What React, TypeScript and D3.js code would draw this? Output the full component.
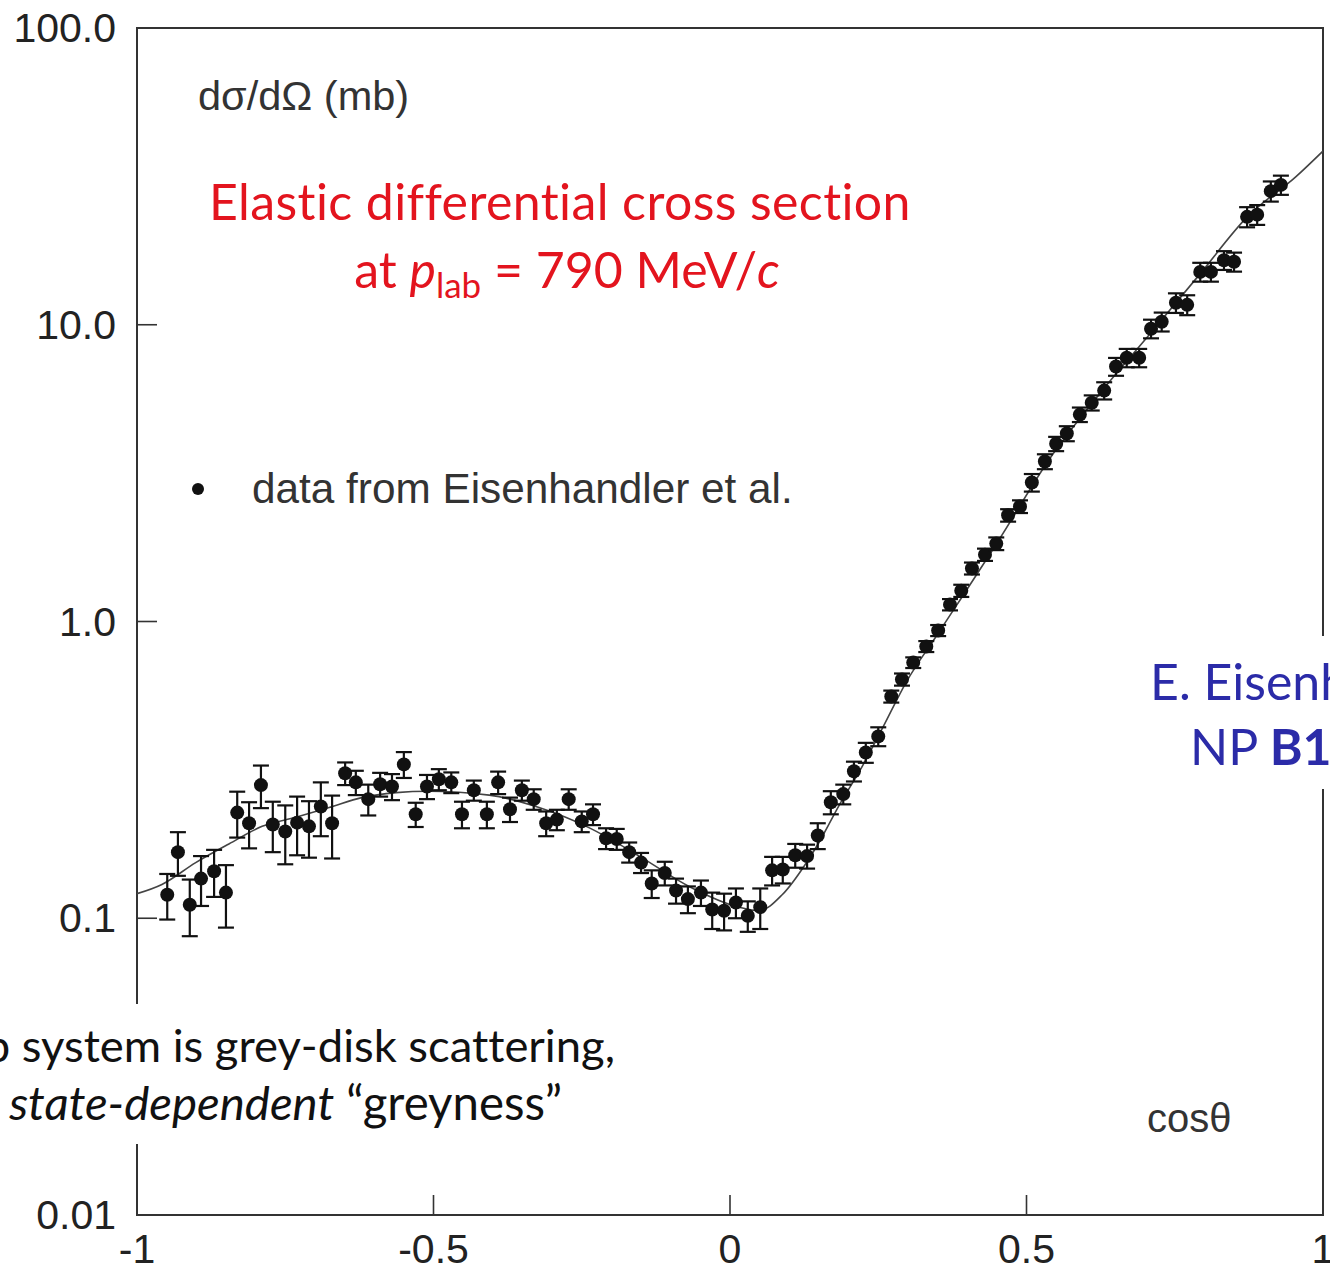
import React from "react";
import * as d3 from "d3";

// ---- data ----
const cosTheta = [
  -0.949, -0.931, -0.911, -0.892, -0.870, -0.850, -0.831, -0.811, -0.791, -0.771,
  -0.750, -0.730, -0.710, -0.690, -0.671, -0.649, -0.631, -0.610, -0.590, -0.570,
  -0.550, -0.530, -0.511, -0.491, -0.470, -0.452, -0.432, -0.410, -0.391, -0.371,
  -0.351, -0.331, -0.310, -0.292, -0.272, -0.250, -0.231, -0.209, -0.191, -0.170,
  -0.150, -0.132, -0.110, -0.091, -0.071, -0.049, -0.030, -0.010, 0.010, 0.030,
  0.051, 0.071, 0.089, 0.110, 0.130, 0.148, 0.170, 0.191, 0.209, 0.229,
  0.250, 0.272, 0.290, 0.309, 0.331, 0.351, 0.371, 0.390, 0.408, 0.430,
  0.449, 0.469, 0.489, 0.509, 0.531, 0.550, 0.568, 0.590, 0.610, 0.631,
  0.651, 0.669, 0.690, 0.710, 0.728, 0.752, 0.771, 0.793, 0.811, 0.833,
  0.850, 0.872, 0.889, 0.912, 0.929,
];
const dSigma = [
  0.120, 0.167, 0.111, 0.136, 0.144, 0.122, 0.227, 0.209, 0.281, 0.207,
  0.196, 0.210, 0.204, 0.238, 0.209, 0.308, 0.287, 0.252, 0.283, 0.278,
  0.330, 0.224, 0.278, 0.294, 0.287, 0.224, 0.270, 0.224, 0.287, 0.233,
  0.270, 0.252, 0.209, 0.215, 0.252, 0.212, 0.224, 0.186, 0.185, 0.167,
  0.154, 0.131, 0.142, 0.124, 0.116, 0.122, 0.107, 0.106, 0.113, 0.102,
  0.109, 0.145, 0.146, 0.163, 0.162, 0.190, 0.246, 0.262, 0.313, 0.362,
  0.410, 0.559, 0.638, 0.727, 0.824, 0.933, 1.14, 1.27, 1.51, 1.68,
  1.83, 2.28, 2.44, 2.94, 3.46, 3.97, 4.30, 4.98, 5.46, 6.00,
  7.23, 7.74, 7.74, 9.70, 10.24, 11.86, 11.67, 15.07, 15.07, 16.5,
  16.3, 23.1, 23.5, 28.2, 29.6,
];
const dSigmaErr = [
  0.021, 0.028, 0.024, 0.026, 0.026, 0.029, 0.040, 0.037, 0.046, 0.040,
  0.044, 0.047, 0.044, 0.049, 0.050, 0.027, 0.027, 0.030, 0.026, 0.028,
  0.033, 0.021, 0.026, 0.024, 0.023, 0.023, 0.021, 0.023, 0.025, 0.022,
  0.021, 0.020, 0.020, 0.017, 0.020, 0.017, 0.018, 0.015, 0.015, 0.013,
  0.012, 0.014, 0.013, 0.012, 0.012, 0.012, 0.015, 0.015, 0.013, 0.012,
  0.017, 0.016, 0.015, 0.015, 0.015, 0.019, 0.022, 0.020, 0.024, 0.028,
  0.030, 0.026, 0.030, 0.030, 0.035, 0.040, 0.05, 0.06, 0.07, 0.08,
  0.09, 0.11, 0.12, 0.20, 0.20, 0.22, 0.25, 0.28, 0.32, 0.40,
  0.50, 0.55, 0.55, 0.70, 0.75, 0.9, 0.9, 1.1, 1.1, 1.2,
  1.2, 1.8, 1.8, 2.2, 2.2,
];

// theory curve
const curveCos = [
  -1.0, -0.958, -0.901, -0.845, -0.789, -0.732, -0.676, -0.621, -0.563, -0.508,
  -0.406, -0.322, -0.238, -0.153, -0.069, 0.015, 0.049, 0.088, 0.128, 0.150,
  0.184, 0.223, 0.256, 0.297, 0.352, 0.454, 0.538, 0.622, 0.707, 0.791,
  0.875, 0.954, 1.0,
];
const curveVal = [
  0.121, 0.130, 0.154, 0.178, 0.204, 0.219, 0.236, 0.255, 0.265, 0.268,
  0.260, 0.236, 0.202, 0.162, 0.128, 0.109, 0.106, 0.120, 0.153, 0.180,
  0.240, 0.325, 0.433, 0.624, 0.918, 1.89, 3.51, 5.81, 9.25, 14.7,
  23.4, 31.5, 38.5,
];

const yTickValues = [100, 10, 1, 0.1, 0.01];
const yTickLabels = ["100.0", "10.0", "1.0", "0.1", "0.01"];
const xTickValues = [-1, -0.5, 0, 0.5, 1];
const xTickLabels = ["-1", "-0.5", "0", "0.5", "1"];

const W = 1330;
const H = 1270;
const LEFT = 137;
const RIGHT = 1323;
const TOP = 28;
const BOTTOM = 1215;

const axisFont = "'Liberation Sans', Arial, Helvetica, sans-serif";
const slideFont = "Lato, 'Open Sans', sans-serif";
const axisColor = "#222";
const noLig = { fontVariantLigatures: "none", fontFeatureSettings: "'liga' 0, 'dlig' 0" } as React.CSSProperties;

export default function App() {
  const x = d3.scaleLinear().domain([-1, 1]).range([LEFT, RIGHT]);
  const y = d3.scaleLog().domain([0.01, 100]).range([BOTTOM, TOP]);

  const pts = cosTheta.map((c, i) => ({ c, v: dSigma[i], e: dSigmaErr[i] }));
  const curvePts = curveCos.map((c, i) => ({ c, v: curveVal[i] }));
  const line = d3
    .line<{ c: number; v: number }>()
    .x((d) => x(d.c))
    .y((d) => y(d.v))
    .curve(d3.curveMonotoneX);

  const capHalf = 8;

  return (
    <svg
      width={W}
      height={H}
      style={{ position: "absolute", left: 0, top: 0, background: "#fff" }}
    >
      <defs>
        <clipPath id="plotClip">
          <rect x={LEFT} y={TOP} width={RIGHT - LEFT} height={BOTTOM - TOP} />
        </clipPath>
      </defs>
      <rect x={0} y={0} width={W} height={H} fill="#fff" />

      {/* frame */}
      <rect
        x={LEFT}
        y={TOP}
        width={RIGHT - LEFT}
        height={BOTTOM - TOP}
        fill="none"
        stroke="#333"
        strokeWidth={2}
      />

      {/* y ticks */}
      {yTickValues.map((v, i) => (
        <g key={"yt" + i}>
          {v < 100 && v > 0.01 && (
            <line x1={LEFT} x2={LEFT + 20} y1={y(v)} y2={y(v)} stroke="#333" strokeWidth={1.6} />
          )}
          <text
            x={116}
            y={y(v) + 14}
            textAnchor="end"
            fontFamily={axisFont}
            fontSize={41}
            fill={axisColor}
          >
            {yTickLabels[i]}
          </text>
        </g>
      ))}

      {/* x ticks */}
      {xTickValues.map((v, i) => (
        <g key={"xt" + i}>
          {v > -1 && v < 1 && (
            <line x1={x(v)} x2={x(v)} y1={BOTTOM} y2={BOTTOM - 20} stroke="#333" strokeWidth={1.6} />
          )}
          <text
            x={x(v)}
            y={1263}
            textAnchor="middle"
            fontFamily={axisFont}
            fontSize={41}
            fill={axisColor}
          >
            {xTickLabels[i]}
          </text>
        </g>
      ))}

      {/* theory curve */}
      <path
        d={line(curvePts) || ""}
        fill="none"
        stroke="#444"
        strokeWidth={1.6}
        clipPath="url(#plotClip)"
      />

      {/* data with error bars */}
      {pts.map((p, i) => {
        const cx = x(p.c);
        const yTop = y(p.v + p.e);
        const yBot = y(Math.max(p.v - p.e, 0.011));
        return (
          <g key={"p" + i}>
            <line x1={cx} x2={cx} y1={yTop} y2={yBot} stroke="#111" strokeWidth={2.2} />
            <line x1={cx - capHalf} x2={cx + capHalf} y1={yTop} y2={yTop} stroke="#111" strokeWidth={2.2} />
            <line x1={cx - capHalf} x2={cx + capHalf} y1={yBot} y2={yBot} stroke="#111" strokeWidth={2.2} />
            <circle cx={cx} cy={y(p.v)} r={7} fill="#111" />
          </g>
        );
      })}

      {/* axis annotations */}
      <text x={198} y={110} fontFamily={axisFont} fontSize={41.5} fill="#333">
        dσ/dΩ (mb)
      </text>
      <circle cx={198} cy={489} r={6} fill="#111" />
      <text x={252} y={503} fontFamily={axisFont} fontSize={42.3} fill="#333">
        data from Eisenhandler et al.
      </text>
      <text x={1147} y={1132} fontFamily={axisFont} fontSize={40} fill="#333">
        cosθ
      </text>

      {/* red title */}
      <g fontFamily={slideFont} fill="#E3141E" textAnchor="middle" fontSize={50} style={noLig}>
        <text x={560} y={220} letterSpacing={0.4}>Elastic differential cross section</text>
        <text x={567} y={288}>
          at <tspan fontStyle="italic">p</tspan>
          <tspan fontSize={35} dy={10}>lab</tspan>
          <tspan dy={-10}> = 790 MeV/</tspan>
          <tspan fontStyle="italic">c</tspan>
        </text>
      </g>

      {/* blue reference box */}
      <rect x={1140} y={636} width={200} height={153} fill="#fff" />
      <g fontFamily={slideFont} fill="#2B2BA8" fontSize={50} style={noLig}>
        <text x={1150} y={700}>E. Eisenhandler et al.,</text>
        <text x={1190} y={765}>
          NP <tspan fontWeight="bold">B113</tspan> (1976) 1
        </text>
      </g>

      {/* black comment box */}
      <rect x={0} y={1004} width={630} height={140} fill="#fff" />
      <g fontFamily={slideFont} fill="#111" textAnchor="end" style={noLig}>
        <text x={615} y={1062} fontSize={45.4}>p̄p system is grey-disk scattering,</text>
        <text x={562} y={1120} fontSize={47.4}>
          <tspan fontStyle="italic">state-dependent</tspan> “greyness”
        </text>
      </g>
    </svg>
  );
}
